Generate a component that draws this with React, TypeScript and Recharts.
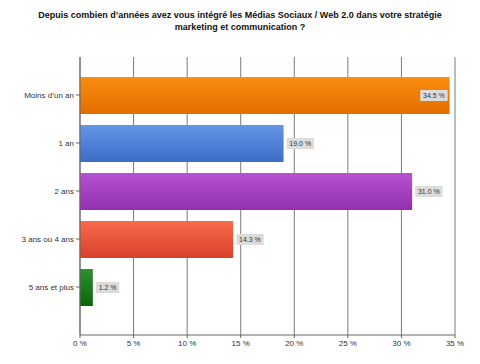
import React from 'react';
import { BarChart, Bar, XAxis, YAxis, CartesianGrid, LabelList, Cell } from 'recharts';

const categories = ['Moins d\u2019un an', '1 an', '2 ans', '3 ans ou 4 ans', '5 ans et plus'];
const values = [34.5, 19.0, 31.0, 14.3, 1.2];
const xTicks = [0, 5, 10, 15, 20, 25, 30, 35];
const titleLines = [
  'Depuis combien d\u2019années avez vous intégré les Médias Sociaux / Web 2.0 dans votre stratégie',
  'marketing et communication ?',
];
const barColors = [
  ['#F98D10', '#E36D00'],
  ['#6395E6', '#3E6CC8'],
  ['#B752D2', '#9230AE'],
  ['#F76A4A', '#D9402C'],
  ['#2E8E2E', '#0C660C'],
];

const data = categories.map((c, i) => ({ name: c, value: values[i] }));

const PLOT_RIGHT = 455;
const FONT = 'Liberation Sans, Arial, sans-serif';

const ValueLabel = (props: any) => {
  const { x, y, width, height, value } = props;
  const text = `${Number(value).toFixed(1)} %`;
  const w = text.length * 3.9 + 4;
  const h = 11;
  const end = x + width;
  let bx = end + 3;
  if (bx + w > PLOT_RIGHT) bx = end - w - 2;
  const cy = y + height / 2;
  return (
    <g>
      <rect x={bx} y={cy - h / 2} width={w} height={h} fill="#dcdcdc" />
      <text x={bx + w / 2} y={cy} dy="0.35em" textAnchor="middle" fontSize={7} fill="#333" fontFamily={FONT}>
        {text}
      </text>
    </g>
  );
};

const YTick = (props: any) => {
  const { x, y, payload } = props;
  return (
    <text x={x} y={y} dy="0.35em" textAnchor="end" fontSize={8} fill="#333" fontFamily={FONT}>
      {payload.value}
    </text>
  );
};

export default function App() {
  return (
    <div style={{ position: 'absolute', left: 0, top: 0, width: 480, height: 364, background: '#fff', fontFamily: FONT }}>
      <div style={{ position: 'absolute', left: 0, top: 9, width: 480, textAlign: 'center', fontWeight: 'bold', fontSize: 9, lineHeight: '12px', color: '#111' }}>
        <div>{titleLines[0]}</div>
        <div>{titleLines[1]}</div>
      </div>
      <BarChart
        width={480}
        height={364}
        data={data}
        layout="vertical"
        margin={{ top: 57, right: 25, bottom: 9, left: 8 }}
        style={{ position: 'absolute', left: 0, top: 0 }}
      >
        <defs>
          {barColors.map((c, i) => (
            <linearGradient key={i} id={`g${i}`} x1="0" y1="0" x2="0" y2="1">
              <stop offset="0%" stopColor={c[0]} />
              <stop offset="100%" stopColor={c[1]} />
            </linearGradient>
          ))}
        </defs>
        <CartesianGrid horizontal={false} vertical={true} stroke="#7a7a7a" strokeWidth={1} />
        <XAxis
          type="number"
          dataKey="value"
          domain={[0, 35]}
          ticks={xTicks}
          tickFormatter={(v: number) => `${v} %`}
          axisLine={{ stroke: '#666' }}
          tickLine={{ stroke: '#666' }}
          tickSize={3}
          height={20}
          tick={{ fontSize: 8, fill: '#333', fontFamily: FONT }}
          interval={0}
        />
        <YAxis
          type="category"
          dataKey="name"
          width={72}
          padding={{ top: 14, bottom: 24 }}
          axisLine={{ stroke: '#666' }}
          tickLine={{ stroke: '#666' }}
          tickSize={4}
          tick={<YTick />}
          interval={0}
        />
        <Bar dataKey="value" barSize={37} isAnimationActive={false}>
          {data.map((d, i) => (
            <Cell key={i} fill={`url(#g${i})`} />
          ))}
          <LabelList dataKey="value" content={<ValueLabel />} />
        </Bar>
      </BarChart>
    </div>
  );
}
